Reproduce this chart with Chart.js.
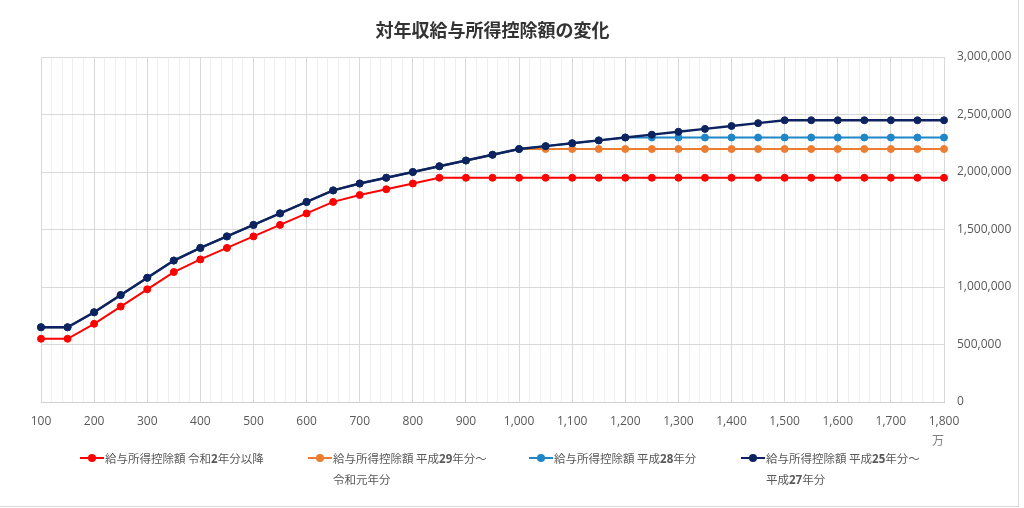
<!DOCTYPE html>
<html>
<head>
<meta charset="utf-8">
<script src="https://cdn.jsdelivr.net/npm/chart.js@4.4.0/dist/chart.umd.min.js"></script>
<style>
  body { margin: 0; background: #fff; }
  #frame { position: absolute; left: -1px; top: -1px; width: 1018px; height: 506px; border: 1px solid #d9d9d9; }
  #wrap { position: absolute; left: 0; top: 0; width: 1018px; height: 452px; }
  .leg { position: absolute; font-family: "Noto Sans CJK JP", sans-serif; font-size: 11.5px; color: #595959; line-height: 20px; white-space: nowrap; }
  .leg b { font-family: "Open Sans", sans-serif; font-weight: bold; }
  .mk { position: absolute; left: -25px; top: 9px; width: 24px; height: 2px; }
  .mk i { position: absolute; left: 8px; top: -3px; width: 8px; height: 8px; border-radius: 50%; }
</style>
</head>
<body>
<div id="frame"></div>
<div id="wrap"><canvas id="lineChart"></canvas></div>

<div class="leg" style="left:105px;top:448px"><span class="mk" style="background:#ff0000"><i style="background:#ff0000"></i></span>給与所得控除額 令和<b>2</b>年分以降</div>
<div class="leg" style="left:333px;top:448px"><span class="mk" style="background:#ed7d31"><i style="background:#ed7d31"></i></span>給与所得控除額 平成<b>29</b>年分～<br>令和元年分</div>
<div class="leg" style="left:554px;top:448px"><span class="mk" style="background:#1f86c8"><i style="background:#1f86c8"></i></span>給与所得控除額 平成<b>28</b>年分</div>
<div class="leg" style="left:766px;top:448px"><span class="mk" style="background:#0c2360"><i style="background:#0c2360"></i></span>給与所得控除額 平成<b>25</b>年分～<br>平成<b>27</b>年分</div>

<script>
// 年収（万円）
var incomes = [100, 150, 200, 250, 300, 350, 400, 450, 500, 550, 600, 650, 700, 750, 800, 850, 900,
    950, 1000, 1050, 1100, 1150, 1200, 1250, 1300, 1350, 1400, 1450, 1500, 1550, 1600, 1650, 1700, 1750, 1800];

// 令和2年分以降
var reiwa2 = [550000, 550000, 680000, 830000, 980000, 1130000, 1240000, 1340000, 1440000, 1540000,
    1640000, 1740000, 1800000, 1850000, 1900000, 1950000, 1950000, 1950000, 1950000, 1950000,
    1950000, 1950000, 1950000, 1950000, 1950000, 1950000, 1950000, 1950000, 1950000, 1950000,
    1950000, 1950000, 1950000, 1950000, 1950000];

// 平成29年分～令和元年分
var heisei29 = [650000, 650000, 780000, 930000, 1080000, 1230000, 1340000, 1440000, 1540000, 1640000,
    1740000, 1840000, 1900000, 1950000, 2000000, 2050000, 2100000, 2150000, 2200000, 2200000,
    2200000, 2200000, 2200000, 2200000, 2200000, 2200000, 2200000, 2200000, 2200000, 2200000,
    2200000, 2200000, 2200000, 2200000, 2200000];

// 平成28年分
var heisei28 = [650000, 650000, 780000, 930000, 1080000, 1230000, 1340000, 1440000, 1540000, 1640000,
    1740000, 1840000, 1900000, 1950000, 2000000, 2050000, 2100000, 2150000, 2200000, 2225000,
    2250000, 2275000, 2300000, 2300000, 2300000, 2300000, 2300000, 2300000, 2300000, 2300000,
    2300000, 2300000, 2300000, 2300000, 2300000];

// 平成25年分～平成27年分
var heisei25 = [650000, 650000, 780000, 930000, 1080000, 1230000, 1340000, 1440000, 1540000, 1640000,
    1740000, 1840000, 1900000, 1950000, 2000000, 2050000, 2100000, 2150000, 2200000, 2225000,
    2250000, 2275000, 2300000, 2325000, 2350000, 2375000, 2400000, 2425000, 2450000, 2450000,
    2450000, 2450000, 2450000, 2450000, 2450000];

var yTicks = [0, 500000, 1000000, 1500000, 2000000, 2500000, 3000000];

function points(values) {
    return incomes.map(function (x, i) { return { x: x, y: values[i] }; });
}

function series(label, values, color, width) {
    return {
        label: label,
        data: points(values),
        borderColor: color,
        backgroundColor: color,
        borderWidth: width,
        pointRadius: 3.5,
        pointBorderWidth: 1,
        pointHoverRadius: 4,
        clip: false
    };
}

Chart.defaults.font.family = '"Open Sans", "Noto Sans CJK JP", sans-serif';
Chart.defaults.color = '#595959';

var ctx = document.getElementById('lineChart').getContext('2d');
var myChart = new Chart(ctx, {
    type: 'line',
    data: {
        // first dataset is drawn on top
        datasets: [
            series('給与所得控除額 平成25年分～平成27年分', heisei25, '#0c2360', 2.5),
            series('給与所得控除額 平成28年分', heisei28, '#1f86c8', 2),
            series('給与所得控除額 平成29年分～令和元年分', heisei29, '#ed7d31', 2),
            series('給与所得控除額 令和2年分以降', reiwa2, '#ff0000', 2)
        ]
    },
    options: {
        responsive: true,
        maintainAspectRatio: false,
        animation: false,
        layout: { padding: { left: 41, right: 0, top: 0, bottom: 0 } },
        plugins: {
            legend: { display: false },
            tooltip: { enabled: false },
            title: {
                display: true,
                fullSize: false,
                text: '対年収給与所得控除額の変化',
                color: '#333333',
                font: { family: '"Noto Sans CJK JP", sans-serif', size: 18, weight: 'bold', lineHeight: 1.2 },
                padding: { top: 19, bottom: 16.4 }
            }
        },
        scales: {
            x: {
                type: 'linear',
                min: 100,
                max: 1800,
                afterFit: function (scale) { scale.height = 50; },
                ticks: {
                    stepSize: 20,
                    maxTicksLimit: 200,
                    autoSkip: false,
                    maxRotation: 0,
                    padding: 12,
                    font: { size: 12 },
                    callback: function (v) { return v % 100 === 0 ? v.toLocaleString('en-US') : ''; }
                },
                grid: {
                    drawTicks: false,
                    color: function (c) { return c.tick && c.tick.value % 100 === 0 ? '#d9d9d9' : '#f0f0f0'; }
                },
                border: { color: '#d0d0d0' },
                title: {
                    display: true,
                    text: '万',
                    align: 'end',
                    color: '#7f7f7f',
                    font: { family: '"Noto Sans CJK JP", sans-serif', size: 12 },
                    padding: { top: 0, bottom: 4 }
                }
            },
            y: {
                position: 'right',
                min: 0,
                max: 3000000,
                afterFit: function (scale) { scale.width = 74; },
                afterBuildTicks: function (scale) {
                    scale.ticks = yTicks.map(function (v) { return { value: v }; });
                },
                ticks: {
                    padding: 13,
                    font: { size: 12 },
                    callback: function (v) { return v.toLocaleString('en-US'); }
                },
                grid: { drawTicks: false, color: '#d9d9d9' },
                border: { display: false }
            }
        }
    }
});
</script>
</body>
</html>
